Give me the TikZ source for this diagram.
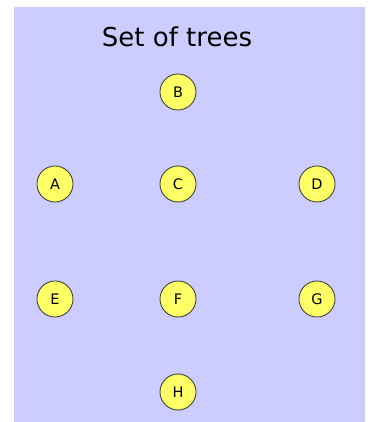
\documentclass[tikz,border=0pt]{standalone}
\usepackage{fontspec}
\setmainfont{DejaVu Sans}
\definecolor{bglav}{HTML}{CCCCFF}
\definecolor{nodeyel}{HTML}{FFFF66}
\definecolor{edgegray}{HTML}{333333}
\begin{document}
\begin{tikzpicture}[x=1pt,y=1pt,
  treenode/.style={circle,draw=edgegray,fill=nodeyel,line width=0.8pt,minimum size=36pt,inner sep=0pt,font=\fontsize{14.5}{14.5}\selectfont}]
\useasboundingbox (0,0) rectangle (369,422);
\fill[bglav] (14,0) rectangle (365,415);
\node[font=\fontsize{26}{28}\selectfont] (title) at (177,385) {Set of trees};
\node[treenode] (B) at (178,330) {B};
\node[treenode] (A) at (55,238) {A};
\node[treenode] (C) at (178,238) {C};
\node[treenode] (D) at (317,238) {D};
\node[treenode] (E) at (55,123) {E};
\node[treenode] (F) at (178,123) {F};
\node[treenode] (G) at (317,123) {G};
\node[treenode] (H) at (178,30) {H};
\end{tikzpicture}
\end{document}
